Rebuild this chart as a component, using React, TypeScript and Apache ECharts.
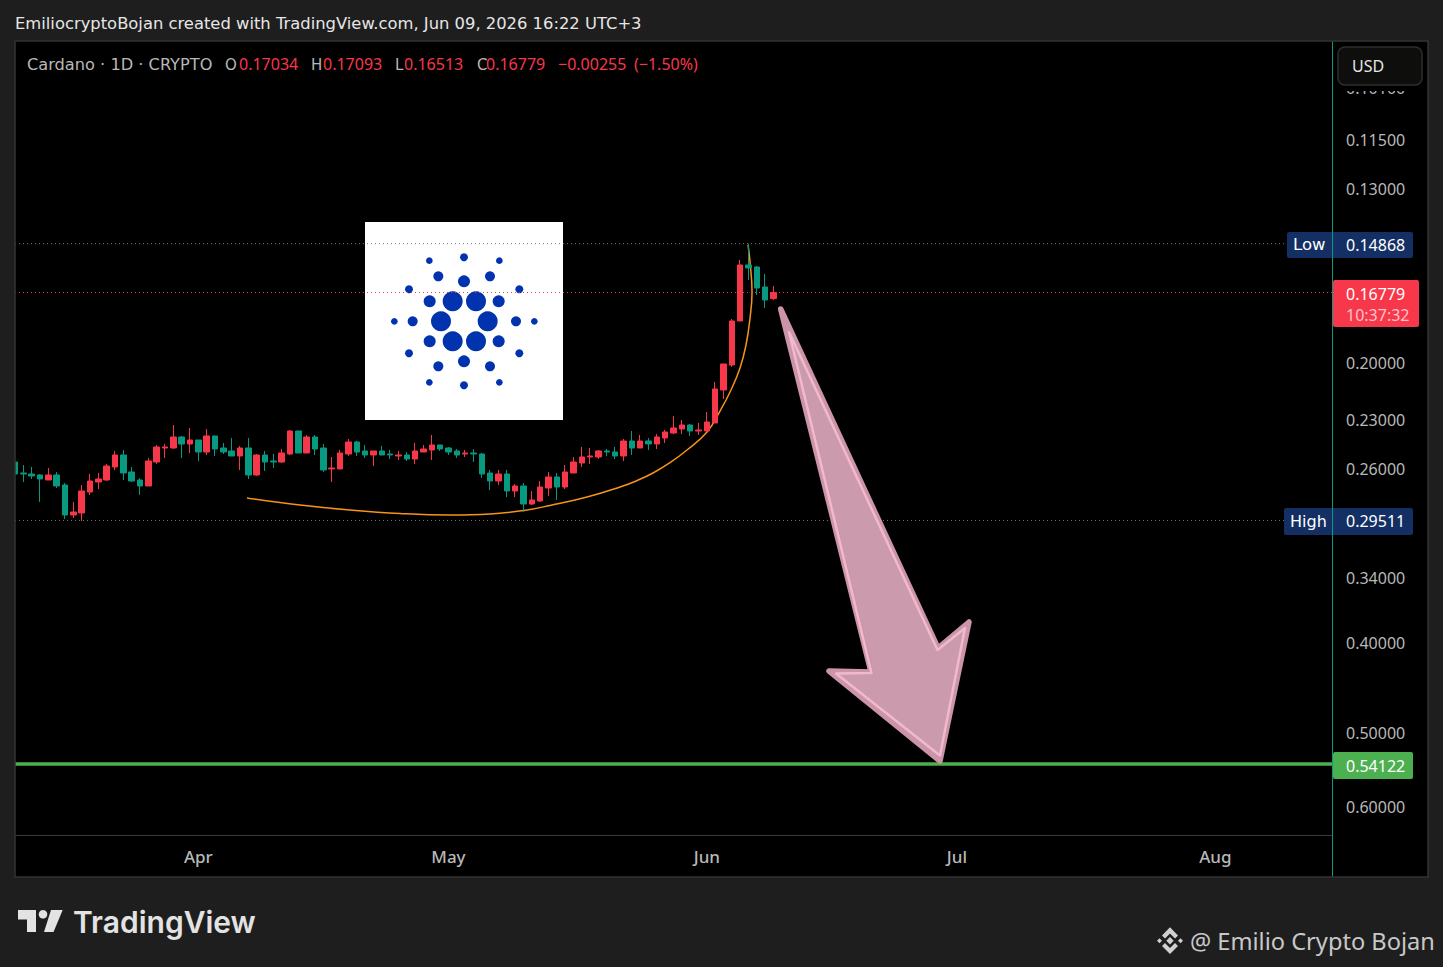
import React, { useEffect, useRef } from "react";
import * as echarts from "echarts";

const opens = [.25533,.26238,.26303,.26368,.26697,.26368,.27029,.29114,.28970,.27502,.26829,.26697,.25851,.25094,.26173,.26697,.27096,.25533,.24663,.24663,.24000,.24420,.24179,.24908,.23940,.24663,.24846,.25156,.24663,.26368,.25094,.25470,.25533,.25032,.23646,.24970,.24000,.24663,.25979,.25979,.25032,.24299,.24846,.25094,.24846,.25032,.25156,.25094,.25344,.24908,.24785,.24480,.24663,.24846,.25032,.24970,.25032,.26238,.26763,.26303,.27434,.27096,.28332,.28122,.27231,.26499,.27164,.26238,.25596,.25218,.25218,.24846,.24908,.25156,.24239,.24663,.24239,.24420,.24059,.23763,.23529,.23297,.23646,.23646,.23182,.21362,.20079,.18006,.15674,.15752,.16552,.17034];
const closes = [.26303,.26303,.26433,.26631,.26368,.27096,.29114,.28899,.27434,.26763,.26631,.25787,.25094,.26238,.26763,.27096,.25470,.24602,.24602,.24000,.24420,.24179,.24908,.23940,.24724,.24908,.25156,.24663,.26368,.25094,.25533,.25533,.24970,.23646,.24970,.24000,.24724,.26044,.25915,.24970,.24299,.24908,.25094,.24846,.25094,.25094,.25094,.25344,.24846,.24724,.24480,.24724,.24908,.25094,.24970,.25032,.26303,.26763,.26303,.27434,.27096,.28332,.28052,.27164,.26499,.27164,.26173,.25533,.25218,.25156,.24846,.24908,.25156,.24239,.24663,.24239,.24420,.24000,.23704,.23470,.23297,.23646,.23587,.23124,.21309,.20030,.18006,.15674,.15791,.16593,.17093,.16779];
const lows = [.25407,.25723,.25851,.26303,.25915,.26173,.26896,.28192,.27029,.26303,.26238,.25660,.24846,.24785,.25851,.26565,.25281,.24480,.24420,.23297,.23940,.23470,.24179,.23529,.23940,.24359,.24059,.24541,.24059,.25032,.24846,.25032,.24724,.23587,.23646,.23881,.23881,.24420,.25218,.24785,.24119,.24239,.24480,.24846,.24541,.24785,.24846,.24908,.24359,.24480,.23881,.24480,.24602,.24724,.24785,.24724,.24970,.26044,.26044,.26044,.26963,.26896,.27434,.26763,.26173,.26238,.25723,.25218,.24602,.24663,.24785,.24724,.24602,.24119,.23646,.23881,.24059,.23822,.23587,.22783,.23010,.23239,.23182,.22558,.20943,.20030,.17917,.15481,.14868,.15713,.16027,.16513];
const highs = [.26368,.26829,.26631,.28192,.26697,.27231,.29404,.29331,.29550,.27707,.27299,.26763,.26044,.26697,.26829,.27707,.27096,.25660,.25281,.24724,.25281,.24970,.25470,.25094,.25156,.25032,.25156,.26044,.26631,.26433,.26108,.25915,.25596,.25094,.24970,.24970,.25094,.26173,.26829,.25979,.25156,.25156,.25281,.25787,.25094,.25344,.25407,.25470,.25660,.24908,.25407,.24846,.25094,.25281,.25218,.25533,.26565,.27366,.27029,.27845,.27845,.28899,.28402,.28192,.27776,.28052,.27299,.26238,.25851,.25660,.25344,.25156,.25344,.25470,.25094,.24663,.24785,.24724,.24359,.23822,.23822,.23940,.23881,.23646,.23182,.21844,.20179,.18006,.16267,.16883,.17435,.17093];

const curveBars = [27.83,34.19,40.19,46.19,52.19,56.99,61.07,64.19,68.63,72.59,74.59,76.54,78.58,80.62,83.02,84.58,85.90,86.98,87.70,88.18,88.42,88.18,87.94];
const curvePrices = [.27914,.28402,.28756,.29006,.29114,.29042,.28790,.28437,.27845,.27164,.26743,.26238,.25578,.24785,.23704,.22504,.21362,.20229,.19109,.17873,.16756,.15559,.14913];

const priceTicks = [0.101, 0.115, 0.13, 0.2, 0.23, 0.26, 0.34, 0.4, 0.5, 0.6];
const monthLabels: Record<string, string> = { "2026-04-01": "Apr", "2026-05-01": "May", "2026-06-01": "Jun", "2026-07-01": "Jul", "2026-08-01": "Aug" };
const lowPrice = 0.14868;
const highPrice = 0.29511;
const lastPrice = 0.16779;
const targetPrice = 0.5396;
const levelBars = [0, 158];
const legendNames: [string, number][] = [
  ["Cardano · 1D · CRYPTO", 27], ["O", 225], ["H", 311], ["L", 395], ["C", 477],
];
const legendValues: [string, number][] = [
  ["0.17034", 239], ["0.17093", 323], ["0.16513", 404], ["0.16779", 486], ["−0.00255", 558], ["(−1.50%)", 634],
];
const logoDots = [
  [263,238,30],[333,238,30],[228,298,30],[368,298,30],[263,358,30],[333,358,30],
  [194,238,18],[401,238,18],[297,178,18],[143,298,15],[453,298,15],[194,358,18],[401,358,18],[297,418,18],
  [220,163,15],[375,163,15],[220,433,15],[375,433,15],
  [132,202,12],[463,202,12],[132,394,12],[463,394,12],
  [297,106,12],[297,490,12],[88,298,10],[508,298,10],
  [193,116,10],[403,116,10],[193,481,10],[403,481,10],
];

const GREEN = "#089981";
const RED = "#f7374a";
const BG = "#1e1e1e";
const FONT = '"Noto Sans"';
const DEJA = '"DejaVu Sans"';

function makeDates(n: number) {
  const out: string[] = [];
  for (let i = 0; i < n; i++) {
    const d = new Date(Date.UTC(2026, 2, 10 + i));
    out.push(d.toISOString().slice(0, 10));
  }
  return out;
}

function txt(text: string, x: number, y: number, fill: string, size: number, extra: any = {}) {
  return {
    type: "text", x, y, z: 60, silent: true,
    style: { text, fill, font: `${extra.weight || 400} ${size}px ${extra.family || FONT}`, textAlign: extra.align || "left", textVerticalAlign: "middle" },
  };
}
function box(x: number, y: number, w: number, h: number, fill: string, r = 2, extra: any = {}) {
  return { type: "rect", z: extra.z ?? 55, silent: true, shape: { x, y, width: w, height: h, r }, style: { fill, stroke: extra.stroke, lineWidth: extra.lineWidth ?? 0 } };
}
function poly(points: number[][], style: any, z = 40) {
  return { type: "polygon", z, silent: true, shape: { points }, style };
}
function level(price: number, color: string, type: any, width: number) {
  return {
    type: "line", xAxisIndex: 1, data: levelBars.map((b) => [b, price]), showSymbol: false, z: 5, silent: true,
    lineStyle: { color, type, width },
  };
}

export default function App() {
  const ref = useRef<HTMLDivElement>(null);
  useEffect(() => {
    document.body.style.margin = "0";
    document.body.style.overflow = "hidden";
    const chart = echarts.init(ref.current!, undefined, { renderer: "svg" });
    const dates = makeDates(159);
    const candles = opens.map((o, i) => [o, closes[i], lows[i], highs[i]]);
    const graphic: any[] = [
      box(15, 41, 1413, 836, "#000000", 0, { z: -20 }),
      // logo
      box(365, 222, 198, 198, "#ffffff", 0, { z: -10 }),
      ...logoDots.map(([cx, cy, r]) => ({ type: "circle", z: -9, silent: true, shape: { cx: 365 + cx / 3, cy: 222 + cy / 3, r: r / 3 }, style: { fill: "#0033ad" } })),
      // arrow
      poly([[780.7,309],[938,648],[969,622],[940,761],[829,671],[871,672]], { fill: "#cc9aad", stroke: "#cc94a9", lineWidth: 5.5, lineJoin: "round" }, 40),
      poly([[789,332],[937.5,650],[965,628],[940,755.5],[836,673.5],[871.5,673]], { fill: "none", stroke: "#f0b9cd", lineWidth: 2.5, lineJoin: "round" }, 41),
      // header
      txt("EmiliocryptoBojan created with TradingView.com, Jun 09, 2026 16:22 UTC+3", 15, 23, "#e6e6e6", 16.36, { family: DEJA }),
      ...legendNames.map(([t, x]) => txt(t, x, 64.5, "#b8b8b8", t.length > 1 ? 16.2 : 15, { family: DEJA })),
      ...legendValues.map(([t, x]) => txt(t, x, 64, RED, 16)),
      // USD box
      box(1334, 42, 94, 49, "#000000", 0, { z: 50 }),
      box(1338, 47, 84, 38, "#0e0e0d", 7, { z: 51, stroke: "#2e2e2e", lineWidth: 1.5 }),
      txt("USD", 1352, 66, "#e6e6e6", 16),
      // price labels
      box(1287, 232, 126, 26, "#142f63"),
      txt("Low", 1293, 244.5, "#ffffff", 16.5, { family: DEJA }),
      txt("0.14868", 1346, 244.5, "#ffffff", 16),
      box(1284, 508, 129, 27, "#142f63"),
      txt("High", 1290, 521, "#ffffff", 16, { family: DEJA }),
      txt("0.29511", 1346, 521, "#ffffff", 16),
      box(1333, 280, 86, 47, RED),
      txt("0.16779", 1346, 294, "#ffffff", 16),
      txt("10:37:32", 1346, 315, "#ffc4ca", 16),
      box(1333, 752, 80, 27, "#4caf50"),
      txt("0.54122", 1346, 766, "#ffffff", 16),
      { type: "line", z: 58, silent: true, shape: { x1: 1332.5, y1: 41, x2: 1332.5, y2: 877 }, style: { stroke: "#0a9a84", lineWidth: 1 } },
      box(0, 41, 15, 836, BG, 0, { z: 57 }),
      box(15, 41, 1413, 836, "none", 0, { z: 59, stroke: "#333333", lineWidth: 1.5 }),
      // TradingView logo
      poly([[18,910],[36,910],[36,932],[27,932],[27,919.5],[18,919.5]], { fill: "#e3e3e3" }),
      { type: "circle", z: 40, silent: true, shape: { cx: 43, cy: 914.3, r: 4.3 }, style: { fill: "#e3e3e3" } },
      poly([[51,910],[62.7,910],[53.5,932],[44,932]], { fill: "#e3e3e3" }),
      txt("TradingView", 73, 922, "#e3e3e3", 30, { family: "Inter", weight: 600 }),
      // author
      poly([[1170,927.3],[1178,935.5],[1175,938.5],[1170,933.5],[1165,938.5],[1162,935.5]], { fill: "#d0d0d0" }),
      poly([[1170,954],[1178,946],[1175,943],[1170,948],[1165,943],[1162,946]], { fill: "#d0d0d0" }),
      poly([[1170,937],[1173.7,940.7],[1170,944.4],[1166.3,940.7]], { fill: "#d0d0d0" }),
      poly([[1159.5,938.2],[1162,940.7],[1159.5,943.2],[1157,940.7]], { fill: "#d0d0d0" }),
      poly([[1180.5,938.2],[1183,940.7],[1180.5,943.2],[1178,940.7]], { fill: "#d0d0d0" }),
      txt("@ Emilio Crypto Bojan", 1190, 941, "#c8c8c8", 23.6),
    ];
    chart.setOption({
      animation: false,
      backgroundColor: BG,
      grid: { left: 15, top: 41, width: 1317, height: 794, containLabel: false },
      xAxis: [
        {
          type: "category", data: dates, boundaryGap: false,
          axisLine: { lineStyle: { color: "#3a3a3a", width: 1 } }, axisTick: { show: false }, splitLine: { show: false },
          axisLabel: {
            color: "#b8b8b8", fontFamily: FONT, fontSize: 17, fontWeight: 500, margin: 13, hideOverlap: false,
            interval: (_: number, v: string) => !!monthLabels[v],
            formatter: (v: string) => monthLabels[v] || "",
          },
        },
        { type: "value", min: 0, max: 158, show: false, splitLine: { show: false } },
      ],
      yAxis: {
        type: "log", inverse: true, min: 0.09, max: 0.6432, position: "right", logBase: 10,
        axisLine: { show: false }, axisTick: { show: false }, splitLine: { show: false }, minorSplitLine: { show: false },
        axisLabel: {
          customValues: priceTicks, color: "#b8b8b8", fontFamily: FONT, fontSize: 16, margin: 14,
          formatter: (v: number) => Number(v).toFixed(5), showMinLabel: true, showMaxLabel: true,
        },
      },
      graphic,
      series: [
        {
          type: "candlestick", data: candles, barWidth: 6, z: 6, clip: true,
          itemStyle: { color: GREEN, color0: RED, borderColor: GREEN, borderColor0: RED, borderWidth: 1 },
        },
        level(lowPrice, "#7a7a7a", [1, 3], 1),
        level(highPrice, "#7a7a7a", [1, 3], 1),
        level(lastPrice, RED, [1, 3], 1),
        level(targetPrice, "#4caf50", "solid", 3.5),
        {
          type: "line", xAxisIndex: 1, data: curveBars.map((b, i) => [b, curvePrices[i]]), smooth: 0.45, showSymbol: false, z: 4,
          lineStyle: { color: "#f7931a", width: 1.5 }, silent: true,
        },
      ],
    });
    return () => chart.dispose();
  }, []);
  return <div ref={ref} style={{ position: "absolute", left: 0, top: 0, width: 1443, height: 967 }} />;
}
